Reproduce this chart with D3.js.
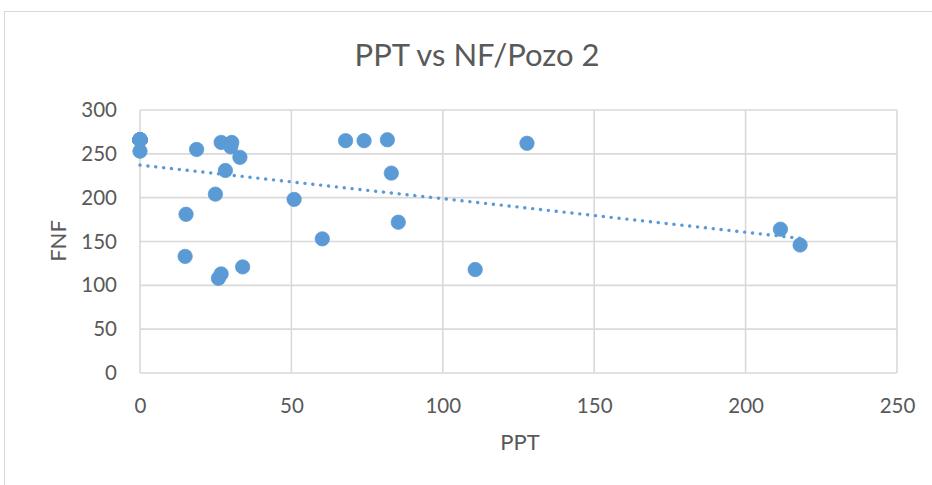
<!DOCTYPE html>
<html>
<head>
<meta charset="utf-8">
<script src="https://cdn.jsdelivr.net/npm/d3@7"></script>
<style>
  html, body { margin: 0; padding: 0; background: #fff; }
  svg { display: block; }
  text { font-family: Lato, "Open Sans", sans-serif; fill: #595959; }
</style>
</head>
<body>
<svg id="chart" width="932" height="485"></svg>
<script>
// Data (PPT on x, FNF on y)
const ppt = [0, 0, 0, 0, 0, 0, 0, 0, 0, 0,
             18.7, 26.8, 30.3, 30, 33, 28.2, 24.9, 15.2, 14.9, 26.8, 25.9, 33.9,
             50.9, 67.9, 74, 81.7, 83, 85.3, 60.2, 110.7, 127.8, 211.5, 218];
const fnf = [266, 266, 266, 266, 266, 266, 266, 266, 266, 253,
             255, 263, 263, 258, 246, 231, 204, 181, 133, 113, 108, 121,
             198, 265, 265, 266, 228, 172, 153, 118, 262, 164, 146];
const xTicks = [0, 50, 100, 150, 200, 250];
const yTicks = [0, 50, 100, 150, 200, 250, 300];
const title = "PPT vs NF/Pozo 2";
const xTitle = "PPT";
const yTitle = "FNF";

const svg = d3.select("#chart");
const W = 932, H = 485;
const plot = { left: 140, right: 897, top: 110, bottom: 373 };

const x = d3.scaleLinear().domain([0, 250]).range([plot.left, plot.right]);
const y = d3.scaleLinear().domain([0, 300]).range([plot.bottom, plot.top]);

// chart border
svg.append("rect")
  .attr("x", 4.5).attr("y", 11.5)
  .attr("width", W + 20).attr("height", H + 20)
  .attr("fill", "none").attr("stroke", "#d9d9d9").attr("stroke-width", 1);

// gridlines
const grid = svg.append("g");
grid.selectAll("line.h").data(yTicks).join("line")
  .attr("x1", plot.left).attr("x2", plot.right)
  .attr("y1", d => y(d)).attr("y2", d => y(d))
  .attr("stroke", "#d9d9d9").attr("stroke-width", 1.6);
grid.selectAll("line.v").data(xTicks).join("line")
  .attr("y1", plot.top).attr("y2", plot.bottom)
  .attr("x1", d => x(d)).attr("x2", d => x(d))
  .attr("stroke", "#d9d9d9").attr("stroke-width", 1.6);

// axes (labels only, via d3 axes)
const xAxis = svg.append("g")
  .attr("transform", `translate(0,${plot.bottom})`)
  .call(d3.axisBottom(x).tickValues(xTicks).tickSize(0).tickPadding(25).tickFormat(d3.format("d")));
xAxis.select(".domain").remove();
xAxis.selectAll("text").style("font-size", "20.5px").attr("fill", "#595959");

const yAxis = svg.append("g")
  .attr("transform", `translate(${plot.left},0)`)
  .call(d3.axisLeft(y).tickValues(yTicks).tickSize(0).tickPadding(23).tickFormat(d3.format("d")));
yAxis.select(".domain").remove();
yAxis.selectAll("text").style("font-size", "20.5px").attr("fill", "#595959");

// titles
svg.append("text").attr("x", 477).attr("y", 66)
  .attr("text-anchor", "middle").style("font-size", "31px").text(title);
svg.append("text").attr("x", 520).attr("y", 450)
  .attr("text-anchor", "middle").style("font-size", "22px").text(xTitle);
svg.append("text")
  .attr("transform", "translate(66,241) rotate(-90)")
  .attr("text-anchor", "middle").style("font-size", "22px").text(yTitle);

// linear trendline (least squares)
const mx = d3.mean(ppt), my = d3.mean(fnf);
let sxy = 0, sxx = 0;
ppt.forEach((v, i) => { sxy += (v - mx) * (fnf[i] - my); sxx += (v - mx) * (v - mx); });
const slope = sxy / sxx, intercept = my - slope * mx;
const [x0, x1] = d3.extent(ppt);
svg.append("line")
  .attr("x1", x(x0)).attr("y1", y(intercept + slope * x0))
  .attr("x2", x(x1)).attr("y2", y(intercept + slope * x1))
  .attr("stroke", "#5B9BD5").attr("stroke-width", 3.4)
  .attr("stroke-linecap", "round").attr("stroke-dasharray", "0.1 7.8");

// points
svg.append("g").selectAll("circle").data(ppt).join("circle")
  .attr("cx", d => x(d)).attr("cy", (d, i) => y(fnf[i]))
  .attr("r", 7.2).attr("fill", "#5B9BD5").attr("stroke", "#5B9BD5").attr("stroke-width", 0.75);
</script>
</body>
</html>
